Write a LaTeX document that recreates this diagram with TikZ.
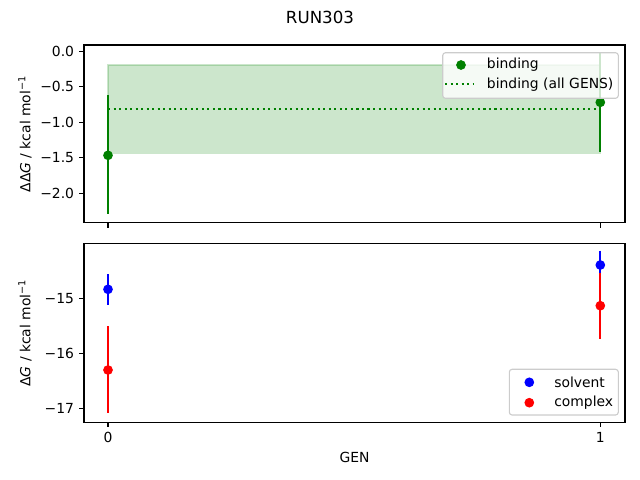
\documentclass[tikz,border=0pt]{standalone}
\usepackage{fontspec}
\setmainfont{DejaVu Sans}
\usepackage{tikz}

\definecolor{mplgreen}{HTML}{008000}
\definecolor{mplblue}{HTML}{0000FF}
\definecolor{mplred}{HTML}{FF0000}
\definecolor{legedge}{HTML}{CCCCCC}

\begin{document}
\begin{tikzpicture}[x=0.72pt,y=-0.72pt,
    spine/.style={line width=0.8pt},
    tickmark/.style={line width=0.8pt},
    errbar/.style={line width=1.5pt},
    dot/.style={circle,inner sep=0pt,minimum size=7pt},
    ticklabel/.style={inner sep=0pt,font=\fontsize{10}{12}\selectfont},
    legendbox/.style={draw=legedge,fill=white,fill opacity=0.8,draw opacity=1,rounded corners=2pt,line width=0.8pt},
    legendtext/.style={anchor=west,inner sep=0pt,font=\fontsize{10}{12}\selectfont}
]
\useasboundingbox (0,0) rectangle (640,480);

% Title
\node[font=\fontsize{12}{14}\selectfont] (title) at (320,17) {RUN303};

% Top panel: binding
\fill[mplgreen,fill opacity=0.2] (108,65) rectangle (600.3,153.3);
\draw[mplgreen,opacity=0.2,line width=1pt] (108,65) rectangle (600.3,153.3);
\draw[mplgreen,line width=1.5pt,dash pattern=on 1.5pt off 2.475pt] (108,109) -- (600.3,109);
\draw[errbar,mplgreen] (108,95) -- (108,214.3);
\draw[errbar,mplgreen] (600.3,52.9) -- (600.3,151.7);
\node[dot,fill=mplgreen] (bind0) at (108,155.3) {};
\node[dot,fill=mplgreen] (bind1) at (600.3,102.3) {};

% Top panel: axes
\draw[spine] (84,45) rectangle (625,222.7);
\foreach \y/\lab in {51.3/0.0,86.8/−0.5,122.3/−1.0,157.8/−1.5,193.3/−2.0}{
  \draw[tickmark] (84,\y) -- (79.1,\y);
  \node[ticklabel,anchor=east] at (74.3,\y) {\lab};
}
\draw[tickmark] (108,222.7) -- (108,227.6);
\draw[tickmark] (600.3,222.7) -- (600.3,227.6);
\node[rotate=90,font=\fontsize{10}{12}\selectfont] (ylabtop) at (25,134) {ΔΔ\textit{G} / kcal mol\textsuperscript{−1}};

% Top panel: legend
\draw[legendbox] (442.7,52.7) rectangle (618.3,98.3);
\node[dot,fill=mplgreen] (legbind) at (461,65) {};
\draw[mplgreen,line width=1.5pt,dash pattern=on 1.5pt off 2.475pt] (445,84.3) -- (473,84.3);
\node[legendtext] (txtbind) at (486.7,65) {binding};
\node[legendtext] (txtall) at (486.7,84.3) {binding (all GENS)};

% Bottom panel: solvent and complex
\draw[errbar,mplblue] (108,274) -- (108,304.7);
\draw[errbar,mplblue] (600.3,250.7) -- (600.3,279.3);
\node[dot,fill=mplblue] (solv0) at (108,289.3) {};
\node[dot,fill=mplblue] (solv1) at (600.3,265) {};
\draw[errbar,mplred] (108,326) -- (108,413.3);
\draw[errbar,mplred] (600.3,272.7) -- (600.3,339.3);
\node[dot,fill=mplred] (comp0) at (108,370) {};
\node[dot,fill=mplred] (comp1) at (600.3,305.7) {};

% Bottom panel: axes
\draw[spine] (84,243.3) rectangle (625,422.3);
\foreach \y/\lab in {298.3/−15,353.3/−16,408.3/−17}{
  \draw[tickmark] (84,\y) -- (79.1,\y);
  \node[ticklabel,anchor=east] at (74.3,\y) {\lab};
}
\foreach \x/\lab in {108/0,600.3/1}{
  \draw[tickmark] (\x,422.3) -- (\x,427.2);
  \node[ticklabel,anchor=north] at (\x,432) {\lab};
}
\node[rotate=90,font=\fontsize{10}{12}\selectfont] (ylabbot) at (25,333) {Δ\textit{G} / kcal mol\textsuperscript{−1}};
\node[font=\fontsize{10}{12}\selectfont] (xlab) at (354.5,457) {GEN};

% Bottom panel: legend
\draw[legendbox] (509.3,369.3) rectangle (618.3,415);
\node[dot,fill=mplblue] (legsolv) at (529.3,382.3) {};
\node[dot,fill=mplred] (legcomp) at (529.3,402.7) {};
\node[legendtext] (txtsolv) at (554,382.3) {solvent};
\node[legendtext] (txtcomp) at (554,402.7) {complex};

\end{tikzpicture}
\end{document}
